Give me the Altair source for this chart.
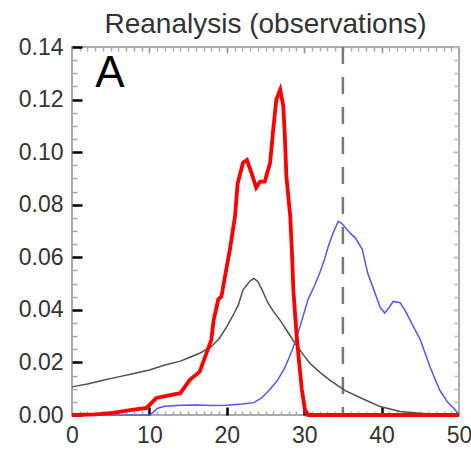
import altair as alt
import pandas as pd

# ---- data ----
red_x = [0, 3.1, 5.3, 7.5, 9.65, 10.9, 12.7, 14.0, 15.2, 16.5, 18.0, 18.3, 18.9, 19.3, 20.0, 20.4,
         21.06, 21.4, 22.1, 22.6, 23.2, 23.8, 24.3, 24.9, 25.6, 26.0, 26.4, 26.9, 27.3, 27.5, 27.7,
         28.2, 28.4, 28.6, 29.0, 29.4, 29.7, 30.1, 30.5, 40, 50]
red_y = [0, 0.0002, 0.0008, 0.0019, 0.0027, 0.0065, 0.0076, 0.0083, 0.0133, 0.0165, 0.0286, 0.036,
         0.044, 0.045, 0.0565, 0.063, 0.0755, 0.088, 0.096, 0.097, 0.092, 0.0865, 0.0888, 0.0888,
         0.096, 0.1086, 0.12, 0.1238, 0.1175, 0.106, 0.0908, 0.0755, 0.063, 0.0476, 0.031, 0.0184,
         0.0095, 0.002, 0, 0, 0]

blue_x = [0, 10, 10.5, 11, 12, 14, 16, 18, 20, 22, 23.5, 24.5, 25.5, 26.5, 27.5, 28.5, 29.5, 30.5,
          31.3, 32, 32.6, 33.1, 33.7, 34.4, 34.8, 35.2, 36, 36.6, 37.5, 38.2, 39, 39.8, 40.4, 41,
          41.5, 42.4, 43, 43.7, 45, 46.3, 47.5, 48.5, 49.5, 50]
blue_y = [0, 0, 0.001, 0.0025, 0.0033, 0.0037, 0.0038, 0.0036, 0.0037, 0.0042, 0.0047, 0.0065,
          0.0095, 0.013, 0.018, 0.025, 0.034, 0.044, 0.049, 0.054, 0.059, 0.064, 0.069, 0.0737,
          0.073, 0.0717, 0.069, 0.0674, 0.063, 0.054, 0.0476, 0.041, 0.0388, 0.041, 0.0432, 0.0427,
          0.04, 0.036, 0.0286, 0.018, 0.0095, 0.005, 0.002, 0.0]

black_x = [0, 2, 4, 6, 8, 10, 12, 14, 15, 16.5, 18, 19, 20, 21, 21.5, 22.1, 23, 23.5, 24, 24.5,
           25.3, 26, 26.9, 28, 28.8, 30, 30.7, 32, 33.3, 35.3, 37.9, 39.8, 42.4, 45, 47, 50]
black_y = [0.0107, 0.0118, 0.0132, 0.0145, 0.0158, 0.0171, 0.019, 0.0205, 0.0217, 0.0235, 0.026,
           0.029, 0.0336, 0.039, 0.042, 0.0476, 0.051, 0.052, 0.0508, 0.048, 0.0427, 0.0395, 0.036,
           0.031, 0.0274, 0.0225, 0.0198, 0.0163, 0.0133, 0.0093, 0.0057, 0.0032, 0.0013, 0.0007,
           0.0003, 0.0]

dashed_x = [35]
panel_label = ["A"]
panel_label_x = [3]
panel_label_y = [0.1246]

x_major = [0, 10, 20, 30, 40, 50]
x_major_inner = [10, 20, 30, 40]
x_minor = list(range(0, 51))
y_major = [0.0, 0.02, 0.04, 0.06, 0.08, 0.10, 0.12, 0.14]
y_minor = [round(i * 0.005, 3) for i in range(0, 29)]

title_text = "Reanalysis (observations)"

# ---- tables ----
red_df = pd.DataFrame({"x": red_x, "y": red_y})
blue_df = pd.DataFrame({"x": blue_x, "y": blue_y})
black_df = pd.DataFrame({"x": black_x, "y": black_y})
rule_df = pd.DataFrame({"x": dashed_x})
text_df = pd.DataFrame({"x": panel_label_x, "y": panel_label_y, "t": panel_label})

FONT = "Liberation Sans"
xs = alt.Scale(domain=[0, 50], nice=False, zero=False)
ys = alt.Scale(domain=[0, 0.14], nice=False)


def tick_axis(orient, values, size, color, width):
    return alt.Axis(orient=orient, values=values, labels=False, domain=False, grid=False,
                    title=None, ticks=True, tickSize={"expr": str(-size)},
                    tickColor=color, tickWidth=width)


label_x_axis = alt.Axis(orient="bottom", values=x_major, ticks=False, domain=False, grid=False,
                        title=None, format="d", labelFont=FONT, labelFontSize=23,
                        labelColor="#333333", labelPadding=9, labelFlush=False)
label_y_axis = alt.Axis(orient="left", values=y_major, ticks=False, domain=False, grid=False,
                        title=None, format=".2f", labelFont=FONT, labelFontSize=23,
                        labelColor="#333333", labelPadding=9)

rule = alt.Chart(rule_df).mark_rule(color="#777777", strokeWidth=2.5, strokeDash=[17, 13]).encode(
    x=alt.X("x:Q", scale=xs, axis=tick_axis("top", x_minor, 4, "#aaaaaa", 1.5)),
)

black = alt.Chart(black_df).mark_line(color="#505050", strokeWidth=1.5).encode(
    x=alt.X("x:Q", scale=xs, axis=tick_axis("bottom", x_minor, 4, "#aaaaaa", 1.5)),
    y=alt.Y("y:Q", scale=ys, axis=tick_axis("left", y_minor, 5, "#aaaaaa", 1.5)),
)

blue = alt.Chart(blue_df).mark_line(color="#5555ff", strokeWidth=1.5).encode(
    x=alt.X("x:Q", scale=xs, axis=tick_axis("bottom", x_major_inner, 8, "#000000", 2.5)),
    y=alt.Y("y:Q", scale=ys, axis=tick_axis("left", y_major, 10, "#000000", 2.5)),
)

red = alt.Chart(red_df).mark_line(color="#ff0000", strokeWidth=3.8).encode(
    x=alt.X("x:Q", scale=xs, axis=label_x_axis),
    y=alt.Y("y:Q", scale=ys, axis=label_y_axis),
)

label = alt.Chart(text_df).mark_text(font=FONT, fontSize=44, color="#000000", align="left",
                                     baseline="alphabetic").encode(
    x=alt.X("x:Q", scale=xs, axis=tick_axis("top", x_major_inner, 6, "#999999", 1.5)),
    y=alt.Y("y:Q", scale=ys, axis=tick_axis("right", y_major, 6, "#bbbbbb", 1.5)),
    text="t:N",
)

ghost = alt.Chart(red_df).mark_point(opacity=0).encode(
    x=alt.X("x:Q", scale=xs, axis=None),
    y=alt.Y("y:Q", scale=ys, axis=tick_axis("right", y_minor, 5, "#bbbbbb", 1.5)),
)

chart = alt.layer(rule, black, blue, red, label, ghost).resolve_axis(
    x="independent", y="independent"
).properties(
    width=387,
    height=368,
    padding={"left": 72, "top": 47, "right": 12, "bottom": 35},
    autosize=alt.AutoSizeParams(type="none"),
    title=alt.TitleParams(title_text, font=FONT, fontSize=28, fontWeight="normal",
                          color="#333333", offset=-3, anchor="middle"),
).configure_view(
    stroke="#aaaaaa", strokeWidth=2
)

chart.save("out.html", embed_options={"renderer": "svg", "actions": False})
